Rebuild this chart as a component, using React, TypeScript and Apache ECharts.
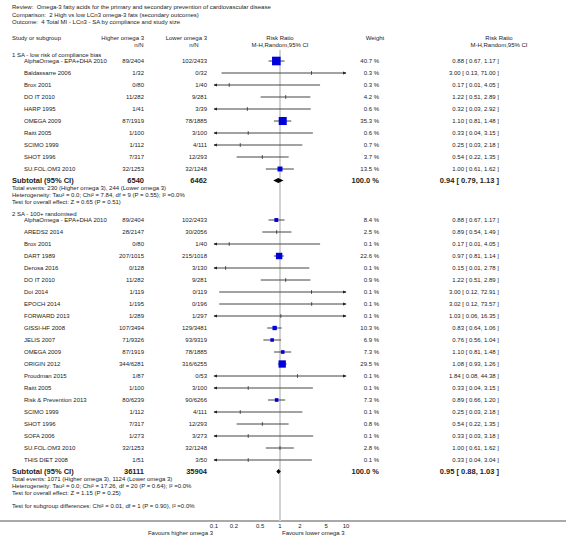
import React, { useEffect, useRef } from "react";
import * as echarts from "echarts";

// ---------- Text content ----------
const titleLines = [
  "Review:  Omega-3 fatty acids for the primary and secondary prevention of cardiovascular disease",
  "Comparison:  2 High vs low LCn3 omega-3 fats (secondary outcomes)",
  "Outcome:  4 Total MI - LCn3 - SA by compliance and study size",
];
const headerStudy = "Study or subgroup";
const headerHigh = ["Higher omega 3", "n/N"];
const headerLow = ["Lower omega 3", "n/N"];
const headerPlot = ["Risk Ratio", "M-H,Random,95% CI"];
const headerWeight = "Weight";
const headerRR = ["Risk Ratio", "M-H,Random,95% CI"];

// ---------- Subgroup 1 ----------
const sub1Title = "1 SA - low risk of compliance bias";
const sub1Studies = [
  "AlphaOmega - EPA+DHA 2010", "Baldassarre 2006", "Brox 2001", "DO IT 2010", "HARP 1995",
  "OMEGA 2009", "Raitt 2005", "SCIMO 1999", "SHOT 1996", "SU.FOL.OM3 2010",
];
const sub1High = ["89/2404", "1/32", "0/80", "11/282", "1/41", "87/1919", "1/100", "1/112", "7/317", "32/1253"];
const sub1Low = ["102/2433", "0/32", "1/40", "9/281", "3/39", "78/1885", "3/100", "4/111", "12/293", "32/1248"];
const sub1Weight = [40.7, 0.3, 0.3, 4.2, 0.6, 35.3, 0.6, 0.7, 3.7, 13.5];
const sub1RR = [0.88, 3.0, 0.17, 1.22, 0.32, 1.1, 0.33, 0.25, 0.54, 1.0];
const sub1Lo = [0.67, 0.13, 0.01, 0.51, 0.03, 0.81, 0.04, 0.03, 0.22, 0.61];
const sub1Hi = [1.17, 71.0, 4.05, 2.89, 2.92, 1.48, 3.15, 2.18, 1.35, 1.62];
const sub1TotalN = ["6540", "6462"];
const sub1Pooled = [0.94, 0.79, 1.13];
const sub1Notes = [
  "Total events: 230 (Higher omega 3), 244 (Lower omega 3)",
  "Heterogeneity: Tau² = 0.0; Chi² = 7.84, df = 9 (P = 0.55); I² =0.0%",
  "Test for overall effect: Z = 0.65 (P = 0.51)",
];

// ---------- Subgroup 2 ----------
const sub2Title = "2 SA - 100+ randomised";
const sub2Studies = [
  "AlphaOmega - EPA+DHA 2010", "AREDS2 2014", "Brox 2001", "DART 1989", "Derosa 2016", "DO IT 2010",
  "Doi 2014", "EPOCH 2014", "FORWARD 2013", "GISSI-HF 2008", "JELIS 2007", "OMEGA 2009",
  "ORIGIN 2012", "Proudman 2015", "Raitt 2005", "Risk & Prevention 2013", "SCIMO 1999",
  "SHOT 1996", "SOFA 2006", "SU.FOL.OM3 2010", "THIS DIET 2008",
];
const sub2High = ["89/2404", "28/2147", "0/80", "207/1015", "0/128", "11/282", "1/119", "1/195", "1/289", "107/3494", "71/9326", "87/1919", "344/6281", "1/87", "1/100", "80/6239", "1/112", "7/317", "1/273", "32/1253", "1/51"];
const sub2Low = ["102/2433", "30/2056", "1/40", "215/1018", "3/130", "9/281", "0/119", "0/196", "1/297", "129/3481", "93/9319", "78/1885", "316/6255", "0/53", "3/100", "90/6266", "4/111", "12/293", "3/273", "32/1248", "3/50"];
const sub2Weight = [8.4, 2.5, 0.1, 22.6, 0.1, 0.9, 0.1, 0.1, 0.1, 10.3, 6.9, 7.3, 29.5, 0.1, 0.1, 7.3, 0.1, 0.8, 0.1, 2.8, 0.1];
const sub2RR = [0.88, 0.89, 0.17, 0.97, 0.15, 1.22, 3.0, 3.02, 1.03, 0.83, 0.76, 1.1, 1.08, 1.84, 0.33, 0.89, 0.25, 0.54, 0.33, 1.0, 0.33];
const sub2Lo = [0.67, 0.54, 0.01, 0.81, 0.01, 0.51, 0.12, 0.12, 0.06, 0.64, 0.56, 0.81, 0.93, 0.08, 0.04, 0.66, 0.03, 0.22, 0.03, 0.61, 0.04];
const sub2Hi = [1.17, 1.49, 4.05, 1.14, 2.78, 2.89, 72.91, 73.57, 16.35, 1.06, 1.04, 1.48, 1.26, 44.38, 3.15, 1.2, 2.18, 1.35, 3.18, 1.62, 3.04];
const sub2TotalN = ["36111", "35904"];
const sub2Pooled = [0.95, 0.88, 1.03];
const sub2Notes = [
  "Total events: 1071 (Higher omega 3), 1124 (Lower omega 3)",
  "Heterogeneity: Tau² = 0.0; Chi² = 17.26, df = 20 (P = 0.64); I² =0.0%",
  "Test for overall effect: Z = 1.15 (P = 0.25)",
];
const subgroupDiffNote = "Test for subgroup differences: Chi² = 0.01, df = 1 (P = 0.90), I² =0.0%";
const subtotalLabel = "Subtotal (95% CI)";
const totalWeightLabel = "100.0 %";

// ---------- Axis ----------
const tickValues = [0.1, 0.2, 0.5, 1, 2, 5, 10];
const tickLabels = ["0.1", "0.2", "0.5", "1", "2", "5", "10"];
const favoursLeft = "Favours higher omega 3";
const favoursRight = "Favours lower omega 3";

// ---------- Layout / style ----------
const FONT = '"Liberation Sans", Arial, Helvetica, sans-serif';
const TEXT = "#222";
const LINE = "#444";
const BLUE = "#0000dd";
const L = {
  W: 566, H: 545,
  left: 12, indent: 24,
  colHigh: 144, colLow: 207, colWeight: 379, colRR: 499,
  hdrPlotX: 280, hdrWeightX: 375, hdrRRX: 499, hdrNX: [139, 194],
  plotLeft: 214, plotWidth: 132, axisY: 521, refTop: 50,
  titleY: [7, 14.5, 22], headY: [38, 45],
  rowStep: 12, headToRow: 6, subGap: 11.5, noteStep: 7, secGap: 12.5,
};

function layoutSection(headY: number, n: number) {
  const rows = Array.from({ length: n }, (_, i) => headY + L.headToRow + i * L.rowStep);
  const subtotal = rows[n - 1] + L.subGap;
  const notes = [1, 2, 3].map((k) => subtotal + k * L.noteStep);
  return { headY, rows, subtotal, notes };
}
const s1 = layoutSection(55, sub1Studies.length);
const s2 = layoutSection(s1.notes[2] + L.secGap, sub2Studies.length);
const subgroupDiffY = s2.notes[2] + 13;

const lg = (v: number) => Math.log10(v);
const fmtRR = (r: number, lo: number, hi: number) => `${r.toFixed(2)} [ ${lo.toFixed(2)}, ${hi.toFixed(2)} ]`;

function txt(text: string, x: number, y: number, align = "left", bold = false, size = 6) {
  return {
    type: "text", x, y, silent: true,
    style: {
      text, fill: TEXT,
      font: `${bold ? "bold " : ""}${size}px ${FONT}`,
      textAlign: align, align,
      textVerticalAlign: "middle", verticalAlign: "middle",
    },
  };
}

function buildGraphics() {
  const g: any[] = [];
  titleLines.forEach((t, i) => g.push(txt(t, L.left, L.titleY[i])));
  g.push(txt(headerStudy, L.left, L.headY[0]));
  g.push(txt(headerHigh[0], L.colHigh, L.headY[0], "right"));
  g.push(txt(headerHigh[1], L.hdrNX[0], L.headY[1], "center"));
  g.push(txt(headerLow[0], L.colLow, L.headY[0], "right"));
  g.push(txt(headerLow[1], L.hdrNX[1], L.headY[1], "center"));
  g.push(txt(headerPlot[0], L.hdrPlotX, L.headY[0], "center"));
  g.push(txt(headerPlot[1], L.hdrPlotX, L.headY[1], "center"));
  g.push(txt(headerWeight, L.hdrWeightX, L.headY[0], "center"));
  g.push(txt(headerRR[0], L.hdrRRX, L.headY[0], "center"));
  g.push(txt(headerRR[1], L.hdrRRX, L.headY[1], "center"));

  const sections = [
    { lay: s1, title: sub1Title, st: sub1Studies, hi: sub1High, lo: sub1Low, w: sub1Weight, rr: sub1RR, l: sub1Lo, h: sub1Hi, tot: sub1TotalN, pool: sub1Pooled, notes: sub1Notes },
    { lay: s2, title: sub2Title, st: sub2Studies, hi: sub2High, lo: sub2Low, w: sub2Weight, rr: sub2RR, l: sub2Lo, h: sub2Hi, tot: sub2TotalN, pool: sub2Pooled, notes: sub2Notes },
  ];
  sections.forEach((s) => {
    g.push(txt(s.title, L.left, s.lay.headY));
    s.st.forEach((name, i) => {
      const y = s.lay.rows[i];
      g.push(txt(name, L.indent, y));
      g.push(txt(s.hi[i], L.colHigh, y, "right"));
      g.push(txt(s.lo[i], L.colLow, y, "right"));
      g.push(txt(`${s.w[i].toFixed(1)} %`, L.colWeight, y, "right"));
      g.push(txt(fmtRR(s.rr[i], s.l[i], s.h[i]), L.colRR, y, "right"));
    });
    const ys = s.lay.subtotal;
    g.push(txt(subtotalLabel, L.left, ys, "left", true, 7.5));
    g.push(txt(s.tot[0], L.colHigh, ys, "right", true, 7.5));
    g.push(txt(s.tot[1], L.colLow, ys, "right", true, 7.5));
    g.push(txt(totalWeightLabel, L.colWeight, ys, "right", true, 7.5));
    g.push(txt(fmtRR(s.pool[0], s.pool[1], s.pool[2]), L.colRR, ys, "right", true, 7.5));
    s.notes.forEach((n, i) => g.push(txt(n, L.left, s.lay.notes[i])));
  });
  g.push(txt(subgroupDiffNote, L.left, subgroupDiffY));
  g.push({
    type: "line", silent: true,
    shape: { x1: 0, y1: L.axisY, x2: L.W, y2: L.axisY },
    style: { stroke: "#8c8c8c", lineWidth: 1.5 },
  });
  g.push(txt(favoursLeft, L.plotLeft - 1, L.axisY + 12, "right"));
  g.push(txt(favoursRight, L.plotLeft + L.plotWidth / 2 + 2, L.axisY + 12, "left"));
  return g;
}

function studyData() {
  const d: number[][] = [];
  sub1RR.forEach((r, i) => d.push([lg(r), lg(sub1Lo[i]), lg(sub1Hi[i]), sub1Weight[i], s1.rows[i]]));
  sub2RR.forEach((r, i) => d.push([lg(r), lg(sub2Lo[i]), lg(sub2Hi[i]), sub2Weight[i], s2.rows[i]]));
  return d;
}

export default function App() {
  const ref = useRef<HTMLDivElement>(null);
  useEffect(() => {
    if (!ref.current) return;
    const chart = echarts.init(ref.current, undefined, { renderer: "svg" });
    const tickLogs = tickValues.map(lg);
    const option: any = {
      animation: false,
      grid: { left: L.plotLeft, width: L.plotWidth, top: 0, height: L.axisY },
      xAxis: {
        type: "value", min: -1, max: 1,
        axisLine: { show: false },
        splitLine: { show: false },
        axisTick: { show: true, inside: true, length: 3, customValues: tickLogs, lineStyle: { color: LINE, width: 1 } },
        axisLabel: {
          customValues: tickLogs, showMinLabel: true, showMaxLabel: true,
          margin: 2, fontSize: 6, color: TEXT, fontFamily: FONT,
          formatter: (v: number) => {
            let best = 0;
            tickLogs.forEach((t, i) => { if (Math.abs(t - v) < Math.abs(tickLogs[best] - v)) best = i; });
            return tickLabels[best];
          },
        },
      },
      yAxis: { type: "value", min: 0, max: L.axisY, inverse: true, show: false },
      series: [
        {
          type: "custom", silent: true, clip: false,
          data: [[0, L.refTop, L.axisY]],
          renderItem: (_p: any, api: any) => {
            const a = api.coord([api.value(0), api.value(1)]);
            const b = api.coord([api.value(0), api.value(2)]);
            return { type: "line", shape: { x1: a[0], y1: a[1], x2: b[0], y2: b[1] }, style: { stroke: "#d2d2d2", lineWidth: 2 } };
          },
        },
        {
          type: "custom", silent: true, clip: false,
          data: studyData(),
          renderItem: (_p: any, api: any) => {
            const lr = api.value(0), ll = api.value(1), lh = api.value(2), w = api.value(3), yv = api.value(4);
            const p = api.coord([lr, yv]);
            const x0 = api.coord([Math.max(ll, -1), yv])[0];
            const x1 = api.coord([Math.min(lh, 1), yv])[0];
            const y = p[1];
            const ch: any[] = [
              { type: "line", shape: { x1: x0, y1: y, x2: x1, y2: y }, style: { stroke: LINE, lineWidth: 1 } },
            ];
            if (ll < -1) ch.push({ type: "polygon", shape: { points: [[x0 - 0.5, y], [x0 + 3, y - 1.6], [x0 + 3, y + 1.6]] }, style: { fill: "#222" } });
            if (lh > 1) ch.push({ type: "polygon", shape: { points: [[x1 + 0.5, y], [x1 - 3, y - 1.6], [x1 - 3, y + 1.6]] }, style: { fill: "#222" } });
            const side = 1.35 * Math.sqrt(w);
            if (side >= 3) {
              ch.push({ type: "rect", shape: { x: p[0] - side / 2, y: y - side / 2, width: side, height: side }, style: { fill: BLUE } });
            } else {
              ch.push({ type: "line", shape: { x1: p[0], y1: y - 1.8, x2: p[0], y2: y + 1.8 }, style: { stroke: LINE, lineWidth: 1 } });
            }
            return { type: "group", children: ch };
          },
        },
        {
          type: "custom", silent: true, clip: false,
          data: [
            [lg(sub1Pooled[0]), lg(sub1Pooled[1]), lg(sub1Pooled[2]), s1.subtotal],
            [lg(sub2Pooled[0]), lg(sub2Pooled[1]), lg(sub2Pooled[2]), s2.subtotal],
          ],
          renderItem: (_p: any, api: any) => {
            const yv = api.value(3);
            const c = api.coord([api.value(0), yv]);
            const a = api.coord([api.value(1), yv]);
            const b = api.coord([api.value(2), yv]);
            return {
              type: "polygon",
              shape: { points: [[a[0], c[1]], [c[0], c[1] - 2.6], [b[0], c[1]], [c[0], c[1] + 2.6]] },
              style: { fill: "#000" },
            };
          },
        },
      ],
      graphic: buildGraphics(),
    };
    chart.setOption(option);
    return () => chart.dispose();
  }, []);
  return (
    <div
      ref={ref}
      style={{ position: "absolute", left: 0, top: 0, width: L.W, height: L.H, background: "#fff" }}
    />
  );
}
